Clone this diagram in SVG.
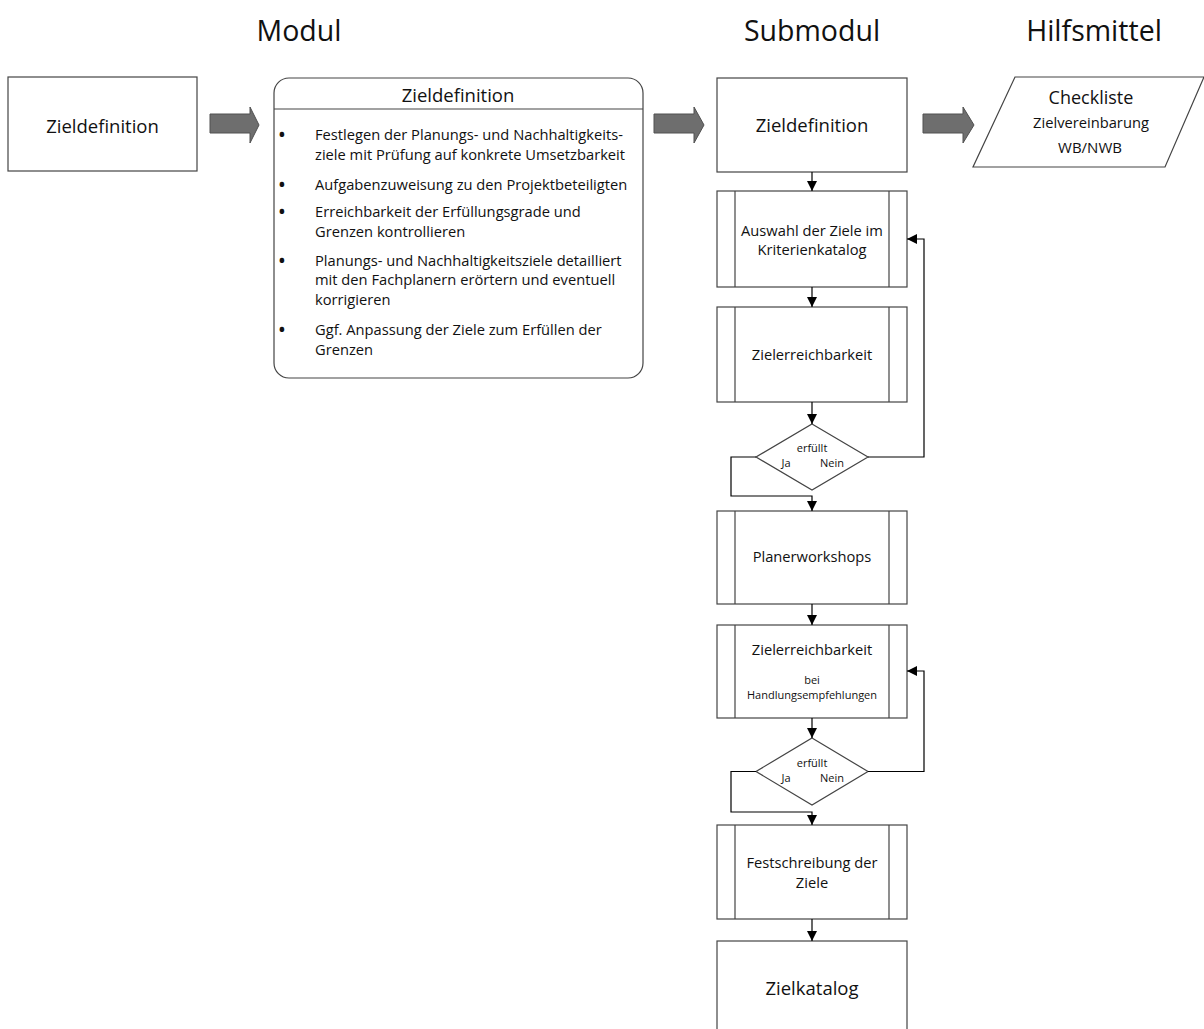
<svg xmlns="http://www.w3.org/2000/svg" width="1204" height="1029" viewBox="0 0 1204 1029">
  <style>
    text { font-family: "Open Sans", "Liberation Sans", sans-serif; fill: #111; }
    .title { font-size: 28.5px; text-anchor: middle; }
    .big { font-size: 18.5px; text-anchor: middle; }
    .mid { font-size: 14.7px; text-anchor: middle; }
    .small { font-size: 11px; text-anchor: middle; }
    .body { font-size: 14.7px; }
    .bullet { font-size: 22px; text-anchor: middle; }
    .box { fill: #fff; stroke: #444; stroke-width: 1.2; }
    .inner { stroke: #444; stroke-width: 1.2; fill: none; }
    .wire { fill: none; stroke: #000; stroke-width: 1.2; }
    .block { fill: #6e6e6e; stroke: #505050; stroke-width: 1; }
  </style>
  <defs>
    <marker id="head" viewBox="0 0 10 10" refX="10" refY="5" markerWidth="10" markerHeight="10" markerUnits="userSpaceOnUse" orient="auto">
      <path d="M0,0 L10,5 L0,10 z" fill="#000"/>
    </marker>
  </defs>

  <!-- column headings -->
  <g id="headings">
    <text class="title" x="299" y="41">Modul</text>
    <text class="title" x="812" y="41">Submodul</text>
    <text class="title" x="1094" y="41">Hilfsmittel</text>
  </g>

  <!-- phase box -->
  <g id="phase">
    <rect class="box" x="8" y="77" width="189" height="94"/>
    <text class="big" x="102.5" y="132.5">Zieldefinition</text>
  </g>

  <!-- wide block arrows between columns -->
  <g id="block-arrows">
    <path class="block" d="M210,114 H250 V107 L259,125 L250,143 V133 H210 Z"/>
    <path class="block" d="M654,114 H694 V107 L704,125 L694,143 V133 H654 Z"/>
    <path class="block" d="M923,114 H963 V107 L974,125 L963,143 V133 H923 Z"/>
  </g>

  <!-- module description -->
  <g id="module">
    <rect class="box" x="274" y="78" width="369" height="300" rx="15" ry="15"/>
    <line class="inner" x1="274" y1="109" x2="643" y2="109"/>
    <text class="big" x="458" y="101.5">Zieldefinition</text>
    <text class="bullet" x="282" y="142">•</text>
    <text class="body" x="315" y="140">Festlegen der Planungs- und Nachhaltigkeits-</text>
    <text class="body" x="315" y="159.5">ziele mit Prüfung auf konkrete Umsetzbarkeit</text>
    <text class="bullet" x="282" y="191.5">•</text>
    <text class="body" x="315" y="189.5">Aufgabenzuweisung zu den Projektbeteiligten</text>
    <text class="bullet" x="282" y="219">•</text>
    <text class="body" x="315" y="217">Erreichbarkeit der Erfüllungsgrade und</text>
    <text class="body" x="315" y="236.5">Grenzen kontrollieren</text>
    <text class="bullet" x="282" y="267.5">•</text>
    <text class="body" x="315" y="265.5">Planungs- und Nachhaltigkeitsziele detailliert</text>
    <text class="body" x="315" y="285">mit den Fachplanern erörtern und eventuell</text>
    <text class="body" x="315" y="304.5">korrigieren</text>
    <text class="bullet" x="282" y="337">•</text>
    <text class="body" x="315" y="335">Ggf. Anpassung der Ziele zum Erfüllen der</text>
    <text class="body" x="315" y="354.5">Grenzen</text>
  </g>

  <!-- submodule flow -->
  <g id="sub-start">
    <rect class="box" x="717" y="78" width="190" height="94"/>
    <text class="big" x="812" y="132">Zieldefinition</text>
  </g>

  <g id="sub-auswahl">
    <rect class="box" x="717" y="191" width="190" height="96"/>
    <line class="inner" x1="735" y1="191" x2="735" y2="287"/>
    <line class="inner" x1="889" y1="191" x2="889" y2="287"/>
    <text class="mid" x="812" y="236">Auswahl der Ziele im</text>
    <text class="mid" x="812" y="255">Kriterienkatalog</text>
  </g>

  <g id="sub-erreichbarkeit">
    <rect class="box" x="717" y="307" width="190" height="95"/>
    <line class="inner" x1="735" y1="307" x2="735" y2="402"/>
    <line class="inner" x1="889" y1="307" x2="889" y2="402"/>
    <text class="mid" x="812" y="360">Zielerreichbarkeit</text>
  </g>

  <g id="check-1">
    <path class="box" d="M812,424 L868,457 L812,490 L756,457 Z"/>
    <text class="small" x="812" y="452">erfüllt</text>
    <text class="small" x="786" y="467">Ja</text>
    <text class="small" x="832" y="467">Nein</text>
  </g>

  <g id="sub-workshops">
    <rect class="box" x="717" y="511" width="190" height="93"/>
    <line class="inner" x1="735" y1="511" x2="735" y2="604"/>
    <line class="inner" x1="889" y1="511" x2="889" y2="604"/>
    <text class="mid" x="812" y="562">Planerworkshops</text>
  </g>

  <g id="sub-erreichbarkeit-2">
    <rect class="box" x="717" y="625" width="190" height="93"/>
    <line class="inner" x1="735" y1="625" x2="735" y2="718"/>
    <line class="inner" x1="889" y1="625" x2="889" y2="718"/>
    <text class="mid" x="812" y="655">Zielerreichbarkeit</text>
    <text class="small" x="812" y="684">bei</text>
    <text class="small" x="812" y="699">Handlungsempfehlungen</text>
  </g>

  <g id="check-2">
    <path class="box" d="M812,738 L868,771.5 L812,805 L756,771.5 Z"/>
    <text class="small" x="812" y="767">erfüllt</text>
    <text class="small" x="786" y="782">Ja</text>
    <text class="small" x="832" y="782">Nein</text>
  </g>

  <g id="sub-festschreibung">
    <rect class="box" x="717" y="825" width="190" height="94"/>
    <line class="inner" x1="735" y1="825" x2="735" y2="919"/>
    <line class="inner" x1="889" y1="825" x2="889" y2="919"/>
    <text class="mid" x="812" y="868">Festschreibung der</text>
    <text class="mid" x="812" y="887.5">Ziele</text>
  </g>

  <g id="sub-zielkatalog">
    <rect class="box" x="717" y="941" width="190" height="96"/>
    <text class="big" x="812" y="995">Zielkatalog</text>
  </g>

  <!-- aid -->
  <g id="aid">
    <path class="box" d="M1015,77 H1204 L1165,167 H973 Z"/>
    <text class="big" x="1091" y="104" style="font-size:18px">Checkliste</text>
    <text class="mid" x="1091" y="128">Zielvereinbarung</text>
    <text class="mid" x="1090" y="153" style="font-size:15px">WB/NWB</text>
  </g>

  <!-- connectors -->
  <g id="connectors">
    <path class="wire" d="M812,172 V191" marker-end="url(#head)"/>
    <path class="wire" d="M812,287 V307" marker-end="url(#head)"/>
    <path class="wire" d="M812,402 V424" marker-end="url(#head)"/>
    <path class="wire" d="M756,457 H731 V496 H812 V511" marker-end="url(#head)"/>
    <path class="wire" d="M868,457 H924 V239 H907" marker-end="url(#head)"/>
    <path class="wire" d="M812,604 V625" marker-end="url(#head)"/>
    <path class="wire" d="M812,718 V738" marker-end="url(#head)"/>
    <path class="wire" d="M756,771.5 H731 V812 H812 V825" marker-end="url(#head)"/>
    <path class="wire" d="M868,771.5 H924 V671 H907" marker-end="url(#head)"/>
    <path class="wire" d="M812,919 V941" marker-end="url(#head)"/>
  </g>
</svg>
